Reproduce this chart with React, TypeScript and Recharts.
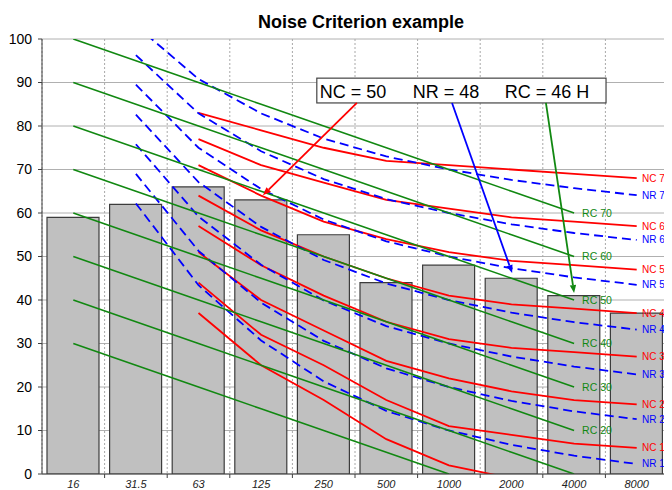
import React from "react";
import {
  Bar,
  CartesianGrid,
  ComposedChart,
  Line,
  ReferenceArea,
  ReferenceDot,
  ReferenceLine,
  XAxis,
  YAxis
} from "recharts";

// octave band centre frequencies (Hz)
const bands = ["16", "31.5", "63", "125", "250", "500", "1000", "2000", "4000", "8000"];
// measured spectrum (dB)
const measured = [59, 62, 66, 63, 55, 44, 48, 45, 41, 37];

// NC curves, 63 Hz .. 8 kHz
const nc70 = [null, null, 83, 79, 75, 72, 71, 70, 69, 68];
const nc60 = [null, null, 77, 71, 67, 63, 61, 59, 58, 57];
const nc50 = [null, null, 71, 64, 58, 54, 51, 49, 48, 47];
const nc40 = [null, null, 64, 56, 50, 45, 41, 39, 38, 37];
const nc30 = [null, null, 57, 48, 41, 35, 31, 29, 28, 27];
const nc20 = [null, null, 51, 40, 33, 26, 22, 19, 17, 16];
const nc10 = [null, null, 44, 32, 25, 17, 11, 9, 7, 6];
const nc0 = [null, null, 37, 25, 17, 8, 2, -1, -3, -4];

// NR curves, 31.5 Hz .. 8 kHz
const nr70 = [null, 103.1, 90.8, 82.9, 77.1, 73.0, 70, 67.6, 65.7, 64.1];
const nr60 = [null, 96.3, 82.9, 74.2, 67.8, 63.2, 60, 57.4, 55.4, 53.8];
const nr50 = [null, 89.5, 75.0, 65.5, 58.5, 53.5, 50, 47.3, 45.2, 43.5];
const nr40 = [null, 82.6, 67.1, 56.8, 49.2, 43.8, 40, 37.1, 34.9, 33.2];
const nr30 = [null, 75.8, 59.2, 48.1, 39.9, 34.0, 30, 27.0, 24.7, 22.9];
const nr20 = [null, 69.0, 51.3, 39.4, 30.6, 24.3, 20, 16.8, 14.4, 12.6];
const nr10 = [null, 62.2, 43.4, 30.7, 21.3, 14.5, 10, 6.7, 4.2, 2.3];

// RC curves, 16 Hz .. 4 kHz
const rc70 = [100, 95, 90, 85, 80, 75, 70, 65, 60, null];
const rc60 = [90, 85, 80, 75, 70, 65, 60, 55, 50, null];
const rc50 = [80, 75, 70, 65, 60, 55, 50, 45, 40, null];
const rc40 = [70, 65, 60, 55, 50, 45, 40, 35, 30, null];
const rc30 = [60, 55, 50, 45, 40, 35, 30, 25, 20, null];
const rc20 = [50, 45, 40, 35, 30, 25, 20, 15, 10, null];
const rc10 = [40, 35, 30, 25, 20, 15, 10, 5, 0, null];
const rc0 = [30, 25, 20, 15, 10, 5, 0, null, null, null];

const yTicks = [0, 10, 20, 30, 40, 50, 60, 70, 80, 90, 100];
// band centres and band edges on the x scale (one unit per octave band)
const bandCentres = [0.5, 1.5, 2.5, 3.5, 4.5, 5.5, 6.5, 7.5, 8.5, 9.5];
const bandEdges = [0, 1, 2, 3, 4, 5, 6, 7, 8, 9, 10];

const RED = "#ff0000";
const BLUE = "#0000ff";
const GREEN = "#118811";
const FONT = "Liberation Sans, Arial, sans-serif";
const HALF_BAND = 31.3;

const curves = [
  { key: "nc70", values: nc70, label: "NC 70", color: RED, dash: undefined, at: 9 },
  { key: "nc60", values: nc60, label: "NC 60", color: RED, dash: undefined, at: 9 },
  { key: "nc50", values: nc50, label: "NC 50", color: RED, dash: undefined, at: 9 },
  { key: "nc40", values: nc40, label: "NC 40", color: RED, dash: undefined, at: 9 },
  { key: "nc30", values: nc30, label: "NC 30", color: RED, dash: undefined, at: 9 },
  { key: "nc20", values: nc20, label: "NC 20", color: RED, dash: undefined, at: 9 },
  { key: "nc10", values: nc10, label: "NC 10", color: RED, dash: undefined, at: 9 },
  { key: "nc0", values: nc0, label: "", color: RED, dash: undefined, at: -1 },
  { key: "nr70", values: nr70, label: "NR 70", color: BLUE, dash: "9 5", at: 9 },
  { key: "nr60", values: nr60, label: "NR 60", color: BLUE, dash: "9 5", at: 9 },
  { key: "nr50", values: nr50, label: "NR 50", color: BLUE, dash: "9 5", at: 9 },
  { key: "nr40", values: nr40, label: "NR 40", color: BLUE, dash: "9 5", at: 9 },
  { key: "nr30", values: nr30, label: "NR 30", color: BLUE, dash: "9 5", at: 9 },
  { key: "nr20", values: nr20, label: "NR 20", color: BLUE, dash: "9 5", at: 9 },
  { key: "nr10", values: nr10, label: "NR 10", color: BLUE, dash: "9 5", at: 9 },
  { key: "rc70", values: rc70, label: "RC 70", color: GREEN, dash: undefined, at: 8 },
  { key: "rc60", values: rc60, label: "RC 60", color: GREEN, dash: undefined, at: 8 },
  { key: "rc50", values: rc50, label: "RC 50", color: GREEN, dash: undefined, at: 8 },
  { key: "rc40", values: rc40, label: "RC 40", color: GREEN, dash: undefined, at: 8 },
  { key: "rc30", values: rc30, label: "RC 30", color: GREEN, dash: undefined, at: 8 },
  { key: "rc20", values: rc20, label: "RC 20", color: GREEN, dash: undefined, at: 8 },
  { key: "rc10", values: rc10, label: "", color: GREEN, dash: undefined, at: -1 },
  { key: "rc0", values: rc0, label: "", color: GREEN, dash: undefined, at: -1 }
];

const rows = bands.map((band, i) => {
  const row: Record<string, any> = { band, pos: bandCentres[i], measured: measured[i] };
  curves.forEach((c) => {
    row[c.key] = c.values[i];
  });
  return row;
});

// NC / NR names sit at the right edge, beside each curve's 8 kHz value
const edgeLabels = curves
  .filter((c) => c.label && c.at === 9)
  .map((c) => ({ value: c.values[9] as number, text: c.label, color: c.color }));
// RC names sit beside each curve's 4 kHz value
const rcLabels = curves.filter((c) => c.label && c.at === 8);

// callout box and arrows, in (band units, dB)
const box = { x1: 4.39, x2: 9.01, y1: 85.3, y2: 91.0 };
const arrows = [
  { color: RED, from: [5.03, 85.3], to: [3.53, 64.1] },
  { color: BLUE, from: [6.55, 85.3], to: [7.51, 46.2] },
  { color: GREEN, from: [8.05, 85.3], to: [8.5, 41.6] }
];

const EdgeTick = (p: any) => {
  const lbl = edgeLabels.find((l) => Math.abs(l.value - p.payload.value) < 1e-6);
  if (!lbl) return null;
  return (
    <text x={p.x - 26} y={p.y} dy="0.35em" fill={lbl.color} fontSize={10} fontFamily={FONT}>
      {lbl.text}
    </text>
  );
};

const rcText = (text: string) => (p: any) => (
  <text x={p.cx + 8} y={p.cy} dy="0.35em" fill={GREEN} fontSize={10.5} fontFamily={FONT}>
    {text}
  </text>
);

const arrowShape = (color: string) => (p: any) => {
  const { x1, y1, x2, y2 } = p;
  const ang = Math.atan2(y2 - y1, x2 - x1);
  const len = 8;
  const half = 3.2;
  const bx = x2 - len * Math.cos(ang);
  const by = y2 - len * Math.sin(ang);
  const pts = `${x2},${y2} ${bx + half * Math.sin(ang)},${by - half * Math.cos(ang)} ${bx - half * Math.sin(ang)},${by + half * Math.cos(ang)}`;
  return (
    <g>
      <line x1={x1} y1={y1} x2={bx} y2={by} stroke={color} strokeWidth={1.8} />
      <polygon points={pts} fill={color} />
    </g>
  );
};

const boxShape = (p: any) => {
  const { x, y, width, height } = p;
  return (
    <g>
      <rect x={x} y={y} width={width} height={height} fill="#ffffff" stroke="#444444" strokeWidth={1.2} />
      <text x={x + 3} y={y + 20} fontSize={18} fontFamily={FONT} fill="#000">NC = 50</text>
      <text x={x + 96} y={y + 20} fontSize={18} fontFamily={FONT} fill="#000">NR = 48</text>
      <text x={x + 188} y={y + 20} fontSize={18} fontFamily={FONT} fill="#000">RC = 46 H</text>
    </g>
  );
};

// band label plus a short tick mark at the band's right edge
const BandTick = (p: any) => {
  const { x, y, payload } = p;
  const axisY = y - 6;
  return (
    <g>
      <line x1={x + HALF_BAND} x2={x + HALF_BAND} y1={axisY} y2={axisY + 4} stroke="#404040" />
      <text x={x} y={y} dy="0.71em" textAnchor="middle" fontSize={11} fontStyle="italic" fill="#222" fontFamily={FONT}>
        {bands[Math.floor(payload.value)]}
      </text>
    </g>
  );
};

const edgeLines = ({ offset }: any) => bandEdges.map((e) => offset.left + (e / 10) * offset.width);

export default function App() {
  return (
    <div style={{ position: "relative", width: 664, height: 482, fontFamily: FONT }}>
      <style>{"html, body { overflow: hidden; }"}</style>
      <div
        style={{
          position: "absolute",
          top: 4,
          left: 203,
          width: 300,
          textAlign: "center",
          fontSize: 18,
          fontWeight: "bold",
          lineHeight: "20px"
        }}
      >
        Noise Criterion example
      </div>
      <ComposedChart width={664} height={482} data={rows} margin={{ top: 31, right: 0, bottom: 0, left: 0 }}>
        <CartesianGrid vertical={false} stroke="#b0b0b0" />
        <CartesianGrid
          horizontal={false}
          stroke="#a8a8a8"
          strokeDasharray="2 2"
          verticalCoordinatesGenerator={edgeLines}
        />
        <XAxis
          dataKey="pos"
          type="number"
          domain={[0, 10]}
          ticks={bandCentres}
          allowDataOverflow
          interval={0}
          height={16}
          tickSize={4}
          tickMargin={2}
          tickLine={false}
          axisLine={{ stroke: "#404040" }}
          tick={<BandTick />}
        />
        <YAxis
          width={34}
          domain={[0, 100]}
          ticks={yTicks}
          allowDataOverflow
          tickSize={4}
          tickMargin={6}
          axisLine={{ stroke: "#404040" }}
          tickLine={{ stroke: "#404040" }}
          tick={{ fontSize: 14, fill: "#000", fontFamily: FONT }}
        />
        <YAxis
          yAxisId="edge"
          orientation="right"
          width={4}
          domain={[0, 100]}
          ticks={edgeLabels.map((l) => l.value)}
          allowDataOverflow
          interval={0}
          tickSize={0}
          tickMargin={0}
          axisLine={false}
          tickLine={false}
          tick={<EdgeTick />}
        />
        <ReferenceLine x={10} stroke="#a0a0a0" />
        <Bar
          dataKey="measured"
          barSize={52}
          fill="#c0c0c0"
          stroke="#3c3c3c"
          strokeWidth={1.2}
          isAnimationActive={false}
        />
        {curves.map((c) => (
          <Line
            key={c.key}
            dataKey={c.key}
            type="linear"
            stroke={c.color}
            strokeWidth={c.color === GREEN ? 1.6 : 1.8}
            strokeDasharray={c.dash}
            dot={false}
            activeDot={false}
            isAnimationActive={false}
          />
        ))}
        {rcLabels.map((c) => (
          <ReferenceDot
            key={"lbl-" + c.key}
            x={bandCentres[c.at]}
            y={c.values[c.at] as number}
            r={0}
            ifOverflow="visible"
            shape={rcText(c.label)}
          />
        ))}
        <ReferenceArea x1={box.x1} x2={box.x2} y1={box.y1} y2={box.y2} shape={boxShape} ifOverflow="visible" />
        {arrows.map((a, i) => (
          <ReferenceLine
            key={i}
            segment={[
              { x: a.from[0], y: a.from[1] },
              { x: a.to[0], y: a.to[1] }
            ]}
            shape={arrowShape(a.color)}
            ifOverflow="visible"
          />
        ))}
      </ComposedChart>
    </div>
  );
}
